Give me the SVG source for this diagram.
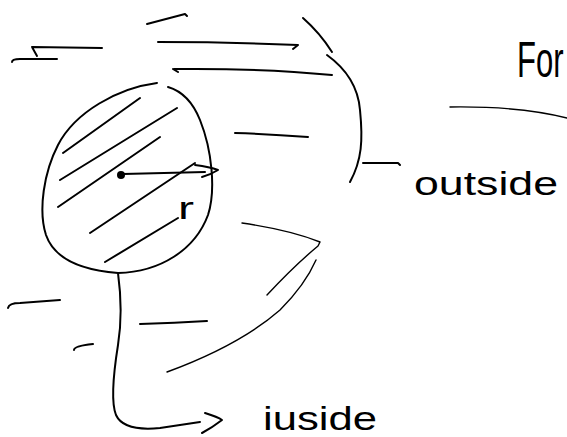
<svg xmlns="http://www.w3.org/2000/svg" width="567" height="437" viewBox="0 0 567 437">
<style>
.s{fill:none;stroke:#000;stroke-width:2;stroke-linecap:round;stroke-linejoin:round}
.t{stroke-width:1.4}
.w{font-family:"Liberation Sans","DejaVu Sans",sans-serif;fill:#000}
</style>
<rect width="567" height="437" fill="#fff"/>
<g id="flow-lines" class="s">
<path d="M147,24 L185,14 L187,16"/>
<path d="M32,47 L102,48 M32,47 L37,56 M12,62 Q12,59 20,59 L57,59"/>
<path d="M158,42 Q230,42 298,45 L293,49"/>
<path d="M173,69 L178,72 M174,69 Q260,68 332,75"/>
<path d="M235,133 Q270,134 308,137"/>
<path d="M303,18 Q320,33 332,52"/>
<path d="M327,55 C345,68 358,85 360,110 C363,140 362,160 350,182"/>
<path d="M363,163 L398,163 L400,165"/>
<path class="t" d="M450,107 Q520,106 567,118"/>
<path class="t" d="M242,223 Q290,230 320,242 L318,246 Q295,265 267,295"/>
<path class="t" d="M316,260 Q305,285 280,310 Q240,345 167,372"/>
<path d="M8,308 Q9,303 20,303 L60,300"/>
<path d="M140,324 Q175,323 207,321"/>
<path d="M74,350 Q74,346 93,344"/>
</g>
<g id="body" class="s">
<path d="M157,83 C118,88 75,112 58,145 C44,172 38,210 46,235 C54,258 80,270 118,273 C160,272 195,250 208,215 C216,190 212,150 200,120 C194,105 185,92 168,87"/>
<path d="M63,153 L140,98 M60,180 L177,108 M58,207 L160,137 M90,233 L195,163 M105,262 L178,218"/>
</g>
<g id="radius">
<circle cx="121" cy="175" r="4" fill="#000"/>
<path class="s" d="M123,174 L205,172 M195,165 Q210,167 218,170 Q210,175 202,177"/>
<text class="w" x="178" y="219" font-size="32" textLength="16" lengthAdjust="spacingAndGlyphs">r</text>
</g>
<g id="connectors" class="s">
<path d="M118,273 C121,295 122,320 118,345 C114,370 110,400 116,415 C122,428 140,430 160,428 L200,422"/>
<path d="M205,413 Q218,417 222,420 Q213,427 202,433"/>
</g>
<g id="labels">
<text class="w" x="414" y="195" font-size="33" textLength="144" lengthAdjust="spacingAndGlyphs">outside</text>
<text class="w" x="263" y="430" font-size="33" textLength="114" lengthAdjust="spacingAndGlyphs">iuside</text>
<text class="w" font-size="31" transform="translate(517,77) scale(1,1.6)">For</text>
</g>
</svg>
